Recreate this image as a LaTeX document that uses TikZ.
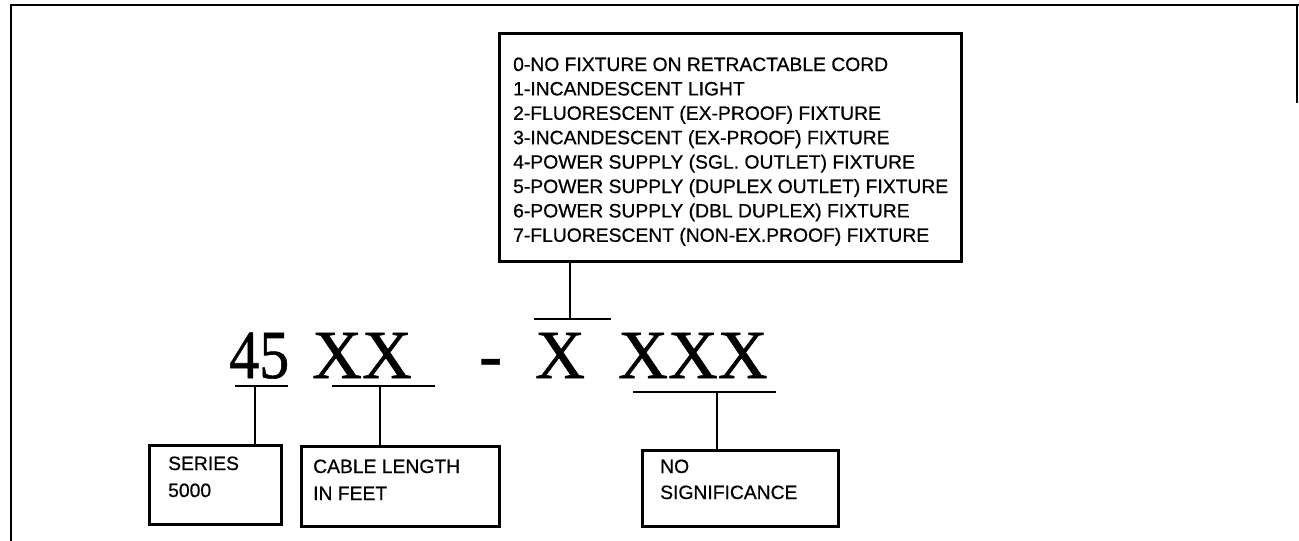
\documentclass[tikz,border=0pt]{standalone}
\usepackage{fontspec}
\setmainfont{Liberation Serif}[FakeBold=0.8]
\newfontfamily\arialf{Liberation Sans}[FakeBold=0.6]
\begin{document}
\begin{tikzpicture}[x=1pt,y=-1pt,
  boxst/.style={draw, line width=2.7pt, inner sep=0pt, anchor=north west},
  lbl/.style={inner sep=0pt, anchor=base west, font=\arialf\fontsize{19.3}{23}\selectfont},
  code/.style={inner sep=0pt, anchor=base west, font=\fontsize{69}{80}\selectfont},
  conn/.style={line width=2.5pt},
  uline/.style={line width=2.3pt},
  framest/.style={line width=2.7pt}]
\useasboundingbox (0,0) rectangle (1299,541);
\fill[white] (0,0) rectangle (1299,541);
% frame
\draw[framest] (11,541) -- (11,5) -- (1299,5);
\draw[framest] (1297,5) -- (1297,103);
% top box
\node[boxst, minimum width=462pt, minimum height=228pt] (fixbox) at (498,32) {};
\foreach \t [count=\i from 0] in {0-NO FIXTURE ON RETRACTABLE CORD,1-INCANDESCENT LIGHT,2-FLUORESCENT (EX-PROOF) FIXTURE,3-INCANDESCENT (EX-PROOF) FIXTURE,4-POWER SUPPLY (SGL. OUTLET) FIXTURE,5-POWER SUPPLY (DUPLEX OUTLET) FIXTURE,6-POWER SUPPLY (DBL DUPLEX) FIXTURE,7-FLUORESCENT (NON-EX.PROOF) FIXTURE}
  \node[lbl] (fix\i) at (513,{71+24.4*\i}) {\t};
% code
\node[code] (c45) at (229,378) {\scalebox{0.87}[1]{45}};
\node[code] (cxx) at (312,378) {XX};
\node[code] (cdash) at (479,378) {-};
\node[code] (cx) at (535,378) {X};
\node[code] (cxxx) at (618,378) {XXX};
% bar above X
\coordinate (barL) at (534,319);
\coordinate (barR) at (611,319);
\coordinate (barM) at (570,319);
\draw[uline] (barL) -- (barR);
\draw[conn] (barM) -- (barM |- fixbox.south);
% bottom boxes
\node[boxst, minimum width=132pt, minimum height=79pt] (serbox) at (148,444) {};
\node[boxst, minimum width=198pt, minimum height=80pt] (cabbox) at (300,445) {};
\node[boxst, minimum width=196pt, minimum height=76pt] (nsbox) at (641,449) {};
\node[lbl] (ser1) at (168,470) {SERIES};
\node[lbl] (ser2) at (168,497) {5000};
\node[lbl] (cab1) at (313,473) {CABLE LENGTH};
\node[lbl] (cab2) at (313,500) {IN FEET};
\node[lbl] (ns1) at (660,473) {NO};
\node[lbl] (ns2) at (660,499) {SIGNIFICANCE};
% underlines
\coordinate (u1L) at (235,386); \coordinate (u1R) at (288,386); \coordinate (u1M) at (255,386);
\coordinate (u2L) at (332,386); \coordinate (u2R) at (435,386); \coordinate (u2M) at (380,386);
\coordinate (u3L) at (633,392); \coordinate (u3R) at (776,392); \coordinate (u3M) at (717,392);
\draw[uline] (u1L) -- (u1R);
\draw[uline] (u2L) -- (u2R);
\draw[uline] (u3L) -- (u3R);
\draw[conn] (u1M) -- (u1M |- serbox.north);
\draw[conn] (u2M) -- (u2M |- cabbox.north);
\draw[conn] (u3M) -- (u3M |- nsbox.north);
\end{tikzpicture}
\end{document}
